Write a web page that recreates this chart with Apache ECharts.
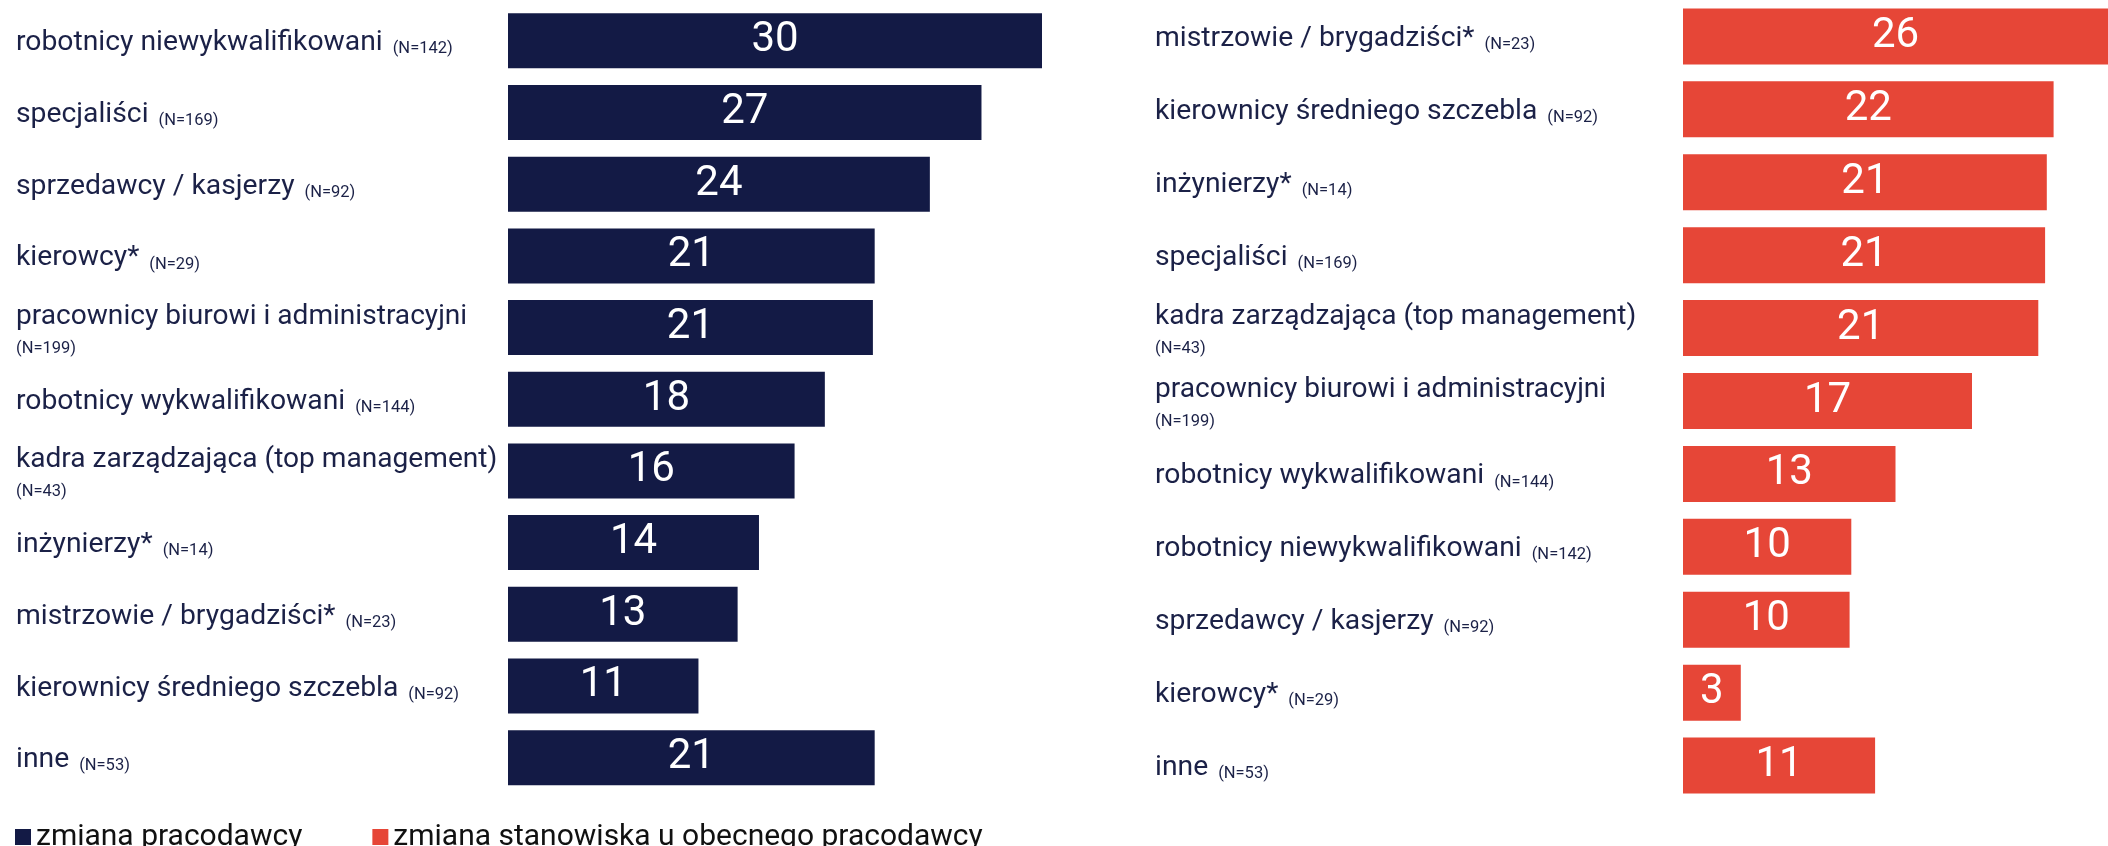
<!DOCTYPE html>
<html><head><meta charset="utf-8">
<script src="https://cdn.jsdelivr.net/npm/echarts@6/dist/echarts.min.js"></script>
<style>html,body{margin:0;padding:0;background:#fff}#c{width:2108px;height:846px}</style>
</head><body><div id="c"></div>
<script>
// Left panel: zmiana pracodawcy
const leftCategories = ['robotnicy niewykwalifikowani','specjaliści','sprzedawcy / kasjerzy','kierowcy*','pracownicy biurowi i administracyjni','robotnicy wykwalifikowani','kadra zarządzająca (top management)','inżynierzy*','mistrzowie / brygadziści*','kierownicy średniego szczebla','inne'];
const leftN = [142,169,92,29,199,144,43,14,23,92,53];
const leftValues = [30,26.6,23.7,20.6,20.5,17.8,16.1,14.1,12.9,10.7,20.6];
// Right panel: zmiana stanowiska u obecnego pracodawcy
const rightCategories = ['mistrzowie / brygadziści*','kierownicy średniego szczebla','inżynierzy*','specjaliści','kadra zarządzająca (top management)','pracownicy biurowi i administracyjni','robotnicy wykwalifikowani','robotnicy niewykwalifikowani','sprzedawcy / kasjerzy','kierowcy*','inne'];
const rightN = [23,92,14,169,43,199,144,142,92,29,53];
const rightValues = [26.2,21.8,21.4,21.3,20.9,17.0,12.5,9.9,9.8,3.4,11.3];
const seriesNames = ['zmiana pracodawcy','zmiana stanowiska u obecnego pracodawcy'];

const NAVY = '#131a45', RED = '#e64637', TXT = '#1b2147';
const FONT = 'Roboto';

function fmtLabel(nArr, cats){
  return function(v){
    const idx = cats.indexOf(v);
    const n = '(N=' + nArr[idx] + ')';
    if (v.length > 32) return '{b|' + v + '}\n{m|' + n + '}';
    return '{a|' + v + '}{n|' + n + '}';
  };
}
const rich = {
  a: {fontSize: 28.3, color: TXT, fontFamily: FONT, padding: [5, 0, 0, 0]},
  b: {fontSize: 28.1, color: TXT, fontFamily: FONT, lineHeight: 42},
  n: {fontSize: 16.5, color: TXT, fontFamily: FONT, padding: [17, 0, 0, 10]},
  m: {fontSize: 16.5, color: TXT, fontFamily: FONT, lineHeight: 22}
};

const chart = echarts.init(document.getElementById('c'), null, {renderer: 'canvas'});
chart.setOption({
  animation: false,
  textStyle: {fontFamily: FONT},
  legend: {
    left: 10, top: 817, itemWidth: 16, itemHeight: 16, itemGap: 70,
    icon: 'rect', textStyle: {fontSize: 30, color: '#111', fontFamily: FONT},
    data: seriesNames
  },
  grid: [
    {left: 508, top: 5, width: 534, height: 788.5},
    {left: 1683, top: -1, right: 0, height: 803}
  ],
  xAxis: [
    {gridIndex: 0, type: 'value', min: 0, max: 30, show: false},
    {gridIndex: 1, type: 'value', min: 0, max: 25, show: false}
  ],
  yAxis: [
    {gridIndex: 0, type: 'category', inverse: true, data: leftCategories,
     axisLine: {show: false}, axisTick: {show: false},
     axisLabel: {align: 'left', margin: 492, formatter: fmtLabel(leftN, leftCategories), rich: rich}},
    {gridIndex: 1, type: 'category', inverse: true, data: rightCategories,
     axisLine: {show: false}, axisTick: {show: false},
     axisLabel: {align: 'left', margin: 528, formatter: fmtLabel(rightN, rightCategories), rich: rich}}
  ],
  series: [
    {name: seriesNames[0], type: 'bar', xAxisIndex: 0, yAxisIndex: 0, data: leftValues, barWidth: 55,
     itemStyle: {color: NAVY},
     label: {show: true, position: 'inside', color: '#fff', fontSize: 42, fontFamily: FONT,
       formatter: p => Math.round(p.value)}},
    {name: seriesNames[1], type: 'bar', xAxisIndex: 1, yAxisIndex: 1, data: rightValues, barWidth: 56,
     itemStyle: {color: RED}, clip: true,
     label: {show: true, position: 'inside', color: '#fff', fontSize: 42, fontFamily: FONT,
       formatter: p => Math.round(p.value)}}
  ]
});
</script></body></html>
